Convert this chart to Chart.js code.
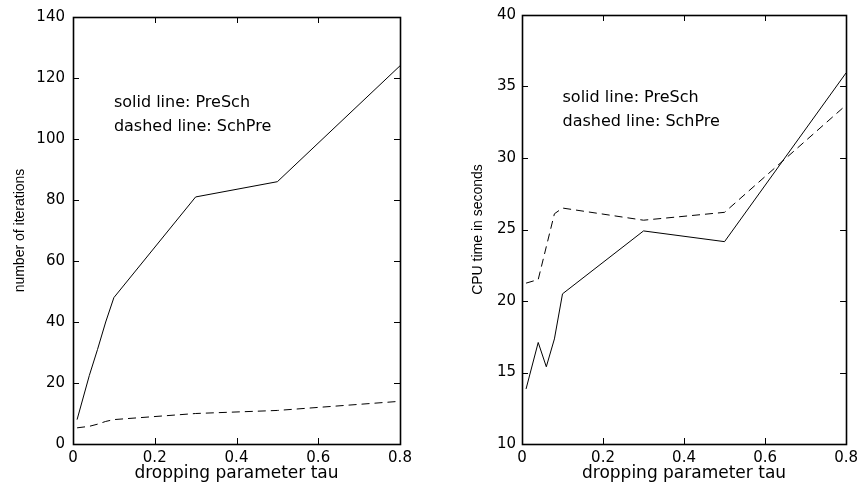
<!DOCTYPE html>
<html>
<head>
<meta charset="utf-8">
<script src="https://cdn.jsdelivr.net/npm/chart.js@4/dist/chart.umd.min.js"></script>
<style>
  html, body { margin: 0; padding: 0; background: #fff; }
  #wrap { position: relative; width: 863px; height: 485px; overflow: hidden; }
  canvas { position: absolute; top: 0; }
  #left { left: 0; }
  #right { left: 440px; }
</style>
</head>
<body>
<div id="wrap">
  <canvas id="left" width="440" height="485"></canvas>
  <canvas id="right" width="423" height="485"></canvas>
</div>
<script>
// dropping parameter tau
const tau = [0.01, 0.04, 0.06, 0.08, 0.1, 0.3, 0.5, 0.8];

// number of iterations
const itersPreSch = [8, 22.5, 31, 40, 48, 81, 86, 124];
const itersSchPre = [5.3, 5.8, 6.5, 7.4, 8, 10, 11, 14];

// CPU time in seconds
const cpuPreSch = [13.85, 17.1, 15.4, 17.35, 20.5, 24.9, 24.15, 35.95];
const cpuSchPre = [21.25, 21.5, 23.8, 26.1, 26.5, 25.65, 26.2, 33.7];

const xTickLabels = ['0', '0.2', '0.4', '0.6', '0.8'];
const itersTickLabels = ['0', '20', '40', '60', '80', '100', '120', '140'];
const cpuTickLabels = ['10', '15', '20', '25', '30', '35', '40'];

const legendLines = ['solid line: PreSch', 'dashed line: SchPre'];

const tickFont = { family: "'DejaVu Sans', sans-serif", size: 15 };
const xTitleFont = { family: "'DejaVu Sans', sans-serif", size: 17 };
const yTitleFont = { family: "'Liberation Sans', Arial, sans-serif", size: 14 };

// matlab style box with inward ticks on all four sides
const boxTicks = {
  id: 'boxTicks',
  afterDraw(chart) {
    const { ctx, chartArea: a, scales: { x, y } } = chart;
    const len = 6;
    ctx.save();
    ctx.strokeStyle = '#000';
    ctx.lineWidth = 1;
    ctx.beginPath();
    x.ticks.forEach(t => {
      const px = Math.round(x.getPixelForValue(t.value)) + 0.5;
      ctx.moveTo(px, a.bottom); ctx.lineTo(px, a.bottom - len);
      ctx.moveTo(px, a.top); ctx.lineTo(px, a.top + len);
    });
    y.ticks.forEach(t => {
      const py = Math.round(y.getPixelForValue(t.value)) + 0.5;
      ctx.moveTo(a.left, py); ctx.lineTo(a.left + len, py);
      ctx.moveTo(a.right, py); ctx.lineTo(a.right - len, py);
    });
    ctx.stroke();
    ctx.lineWidth = 1.6;
    ctx.strokeRect(Math.round(a.left) + 0.5, Math.round(a.top) + 0.5,
      Math.round(a.right - a.left), Math.round(a.bottom - a.top));
    ctx.restore();
  }
};

// "solid line / dashed line" note inside the plot
const note = {
  id: 'note',
  afterDatasetsDraw(chart, args, opts) {
    const { ctx, scales: { x, y } } = chart;
    ctx.save();
    ctx.fillStyle = '#000';
    ctx.font = "16px 'DejaVu Sans', sans-serif";
    ctx.textBaseline = 'middle';
    opts.lines.forEach((txt, i) => {
      ctx.fillText(txt, x.getPixelForValue(opts.x), y.getPixelForValue(opts.y[i]));
    });
    ctx.restore();
  }
};

function makeChart(id, cfg) {
  const pts = (ys) => tau.map((t, i) => ({ x: t, y: ys[i] }));
  return new Chart(document.getElementById(id), {
    type: 'line',
    data: {
      datasets: [
        { label: 'PreSch', data: pts(cfg.solid), borderColor: '#000', borderWidth: 1, pointRadius: 0, tension: 0 },
        { label: 'SchPre', data: pts(cfg.dashed), borderColor: '#000', borderWidth: 1, borderDash: [8, 5], pointRadius: 0, tension: 0 }
      ]
    },
    options: {
      responsive: false,
      animation: false,
      events: [],
      layout: { padding: cfg.padding },
      plugins: {
        legend: { display: false },
        tooltip: { enabled: false },
        note: { lines: legendLines, x: 0.1, y: cfg.noteY }
      },
      scales: {
        x: {
          type: 'linear',
          min: 0, max: 0.8,
          grid: { display: false, drawTicks: false },
          border: { display: false },
          ticks: {
            stepSize: 0.2,
            padding: 5,
            color: '#000',
            font: tickFont,
            maxRotation: 0,
            callback: (v, i) => xTickLabels[i]
          },
          title: { display: true, text: 'dropping parameter tau', color: '#000', font: xTitleFont, padding: { top: 0, bottom: 1 } },
          afterFit: (s) => { s.height = 41; }
        },
        y: {
          min: cfg.yMin, max: cfg.yMax,
          grid: { display: false, drawTicks: false },
          border: { display: false },
          ticks: {
            stepSize: cfg.yStep,
            padding: cfg.yTickPad,
            color: '#000',
            font: tickFont,
            callback: (v, i) => cfg.yLabels[i]
          },
          title: { display: true, text: cfg.yTitle, color: '#000', font: yTitleFont, padding: { top: cfg.yTitlePad, bottom: 0 } },
          afterFit: (s) => { s.width = cfg.yWidth; }
        }
      }
    },
    plugins: [boxTicks, note]
  });
}

makeChart('left', {
  solid: itersPreSch,
  dashed: itersSchPre,
  yMin: 0, yMax: 140, yStep: 20,
  yLabels: itersTickLabels,
  yTitle: 'number of iterations',
  yTitlePad: 12,
  yTickPad: 8,
  yWidth: 73,
  noteY: [112, 104],
  padding: { left: 0, right: 40, top: 15, bottom: 0 }
});

makeChart('right', {
  solid: cpuPreSch,
  dashed: cpuSchPre,
  yMin: 10, yMax: 40, yStep: 5,
  yLabels: cpuTickLabels,
  yTitle: 'CPU time in seconds',
  yTitlePad: 30,
  yTickPad: 6,
  yWidth: 82,
  noteY: [34.2, 32.5],
  padding: { left: 0, right: 14, top: 15, bottom: 0 }
});
</script>
</body>
</html>
